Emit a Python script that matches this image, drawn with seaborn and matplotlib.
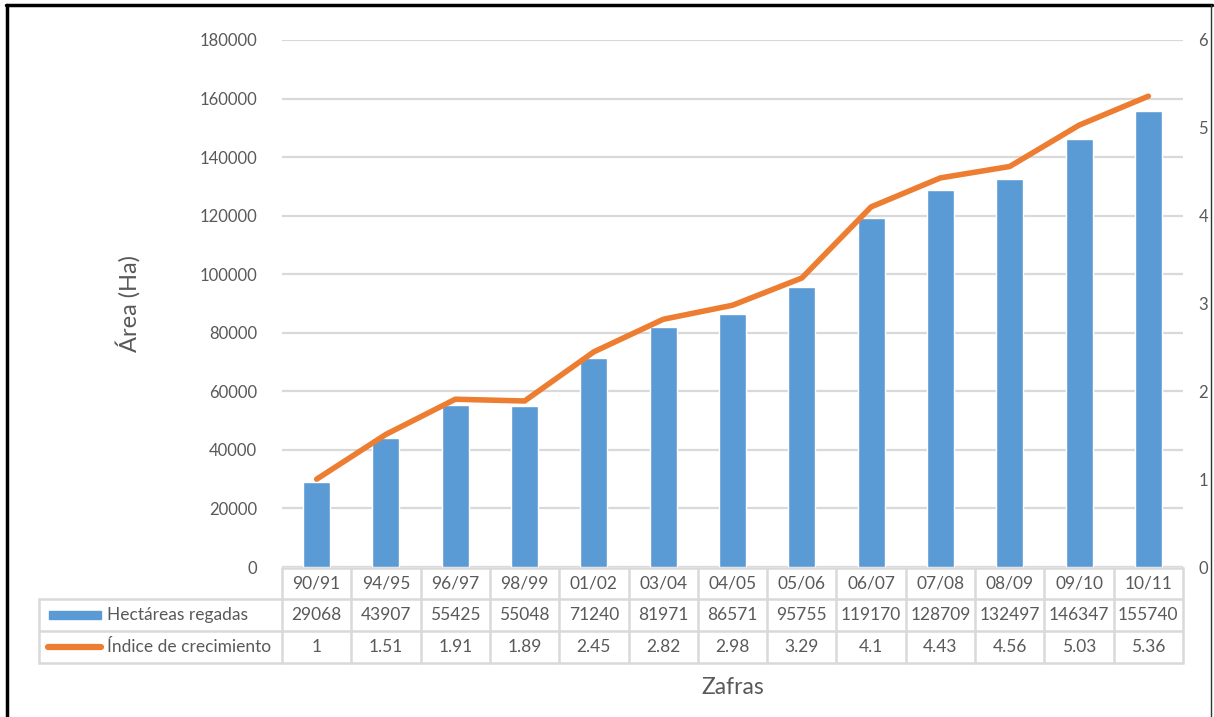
import matplotlib
matplotlib.use("Agg")
import matplotlib.pyplot as plt
from matplotlib.lines import Line2D
from matplotlib.patches import Rectangle
import seaborn as sns
import pandas as pd

# Campaign seasons and their values
zafras = ["90/91", "94/95", "96/97", "98/99", "01/02", "03/04", "04/05",
          "05/06", "06/07", "07/08", "08/09", "09/10", "10/11"]
hectareas = [29068, 43907, 55425, 55048, 71240, 81971, 86571,
             95755, 119170, 128709, 132497, 146347, 155740]
indice = [1, 1.51, 1.91, 1.89, 2.45, 2.82, 2.98,
          3.29, 4.1, 4.43, 4.56, 5.03, 5.36]
indice_labels = ["1", "1.51", "1.91", "1.89", "2.45", "2.82", "2.98",
                 "3.29", "4.1", "4.43", "4.56", "5.03", "5.36"]

left_ticks = list(range(0, 180001, 20000))
right_ticks = list(range(0, 7))

BLUE = "#5B9BD5"
ORANGE = "#ED7D31"
TXT = "#595959"
GRID = "#D9D9D9"

sns.set_theme(style="white")
plt.rcParams["font.family"] = ["Lato", "DejaVu Sans"]

df = pd.DataFrame({"zafra": zafras, "ha": hectareas, "idx": indice})

W, H = 1214, 717
fig = plt.figure(figsize=(W / 100, H / 100), dpi=100)
fig.patch.set_facecolor("white")

x0, x1 = 282, 1183
y_top, y_bot = 40, 567
ax = fig.add_axes([x0 / W, 1 - y_bot / H, (x1 - x0) / W, (y_bot - y_top) / H])

sns.barplot(data=df, x="zafra", y="ha", color=BLUE, width=0.39,
            saturation=1, ax=ax, zorder=3)
ax.set_ylim(0, 180000)
ax.set_xlim(-0.5, len(zafras) - 0.5)
ax.set_yticks(left_ticks)
ax.set_yticklabels([str(v) for v in left_ticks], color=TXT, fontsize=12)
ax.tick_params(axis="y", length=0, pad=18)
ax.set_xticks([])
ax.set_xlabel("")
ax.set_ylabel("Área (Ha)", color=TXT, fontsize=17, labelpad=42)
ax.yaxis.grid(True, color=GRID, linewidth=1.6, zorder=0)
ax.set_axisbelow(True)
for s in ax.spines.values():
    s.set_visible(False)

ax2 = ax.twinx()
sns.lineplot(x=list(range(len(zafras))), y=indice, color=ORANGE,
             linewidth=4, ax=ax2, zorder=4, solid_capstyle="round")
ax2.set_ylim(0, 6)
ax2.set_yticks(right_ticks)
ax2.set_yticklabels([str(v) for v in right_ticks], color=TXT, fontsize=12)
ax2.tick_params(axis="y", length=0, pad=11)
ax2.grid(False)
for s in ax2.spines.values():
    s.set_visible(False)
ax2.set_xlim(-0.5, len(zafras) - 0.5)

# Data table under the plot area, drawn in figure pixel coordinates
def fx(px):
    return px / W

def fy(py):
    return 1 - py / H

rows = [568, 599, 631, 663]
col_w = (x1 - x0) / len(zafras)
cols = [x0 + i * col_w for i in range(len(zafras) + 1)]
leg_left = 39
lw_tab = 1.8

# horizontal lines
fig.add_artist(Line2D([fx(x0), fx(x1)], [fy(rows[0])] * 2, color=GRID, lw=lw_tab))
for r in rows[1:]:
    fig.add_artist(Line2D([fx(leg_left), fx(x1)], [fy(r)] * 2, color=GRID, lw=lw_tab))
# vertical lines
for c in cols:
    fig.add_artist(Line2D([fx(c)] * 2, [fy(rows[0]), fy(rows[3])], color=GRID, lw=lw_tab))
fig.add_artist(Line2D([fx(leg_left)] * 2, [fy(rows[1]), fy(rows[3])], color=GRID, lw=lw_tab))

fs_tab = 12.5
for i, z in enumerate(zafras):
    cx = fx((cols[i] + cols[i + 1]) / 2)
    fig.text(cx, fy((rows[0] + rows[1]) / 2), z, ha="center", va="center",
             color=TXT, fontsize=fs_tab)
    fig.text(cx, fy((rows[1] + rows[2]) / 2), str(hectareas[i]), ha="center",
             va="center", color=TXT, fontsize=fs_tab)
    fig.text(cx, fy((rows[2] + rows[3]) / 2), indice_labels[i], ha="center",
             va="center", color=TXT, fontsize=fs_tab)

# legend keys in the table
ym1 = (rows[1] + rows[2]) / 2
fig.add_artist(Rectangle((fx(49), fy(ym1 + 4)), fx(101) - fx(49), (8 / H),
                         color=BLUE, transform=fig.transFigure))
fig.text(fx(107), fy(ym1), "Hectáreas regadas", ha="left", va="center",
         color=TXT, fontsize=fs_tab)
ym2 = (rows[2] + rows[3]) / 2
fig.add_artist(Line2D([fx(48), fx(101)], [fy(ym2)] * 2, color=ORANGE, lw=4.5,
                      solid_capstyle="round"))
fig.text(fx(107), fy(ym2), "Índice de crecimiento", ha="left", va="center",
         color=TXT, fontsize=fs_tab)

fig.text(fx((x0 + x1) / 2), fy(688), "Zafras", ha="center", va="center",
         color=TXT, fontsize=16.5)

# outer frame
fig.add_artist(Line2D([fx(7), fx(7)], [fy(717), fy(5)], color="black", lw=2.5))
fig.add_artist(Line2D([fx(6), fx(1212)], [fy(5), fy(5)], color="black", lw=2.5))
fig.add_artist(Line2D([fx(1211), fx(1211)], [fy(5), fy(717)], color="#333333", lw=1))

fig.savefig("out.png", dpi=100, facecolor="white")
